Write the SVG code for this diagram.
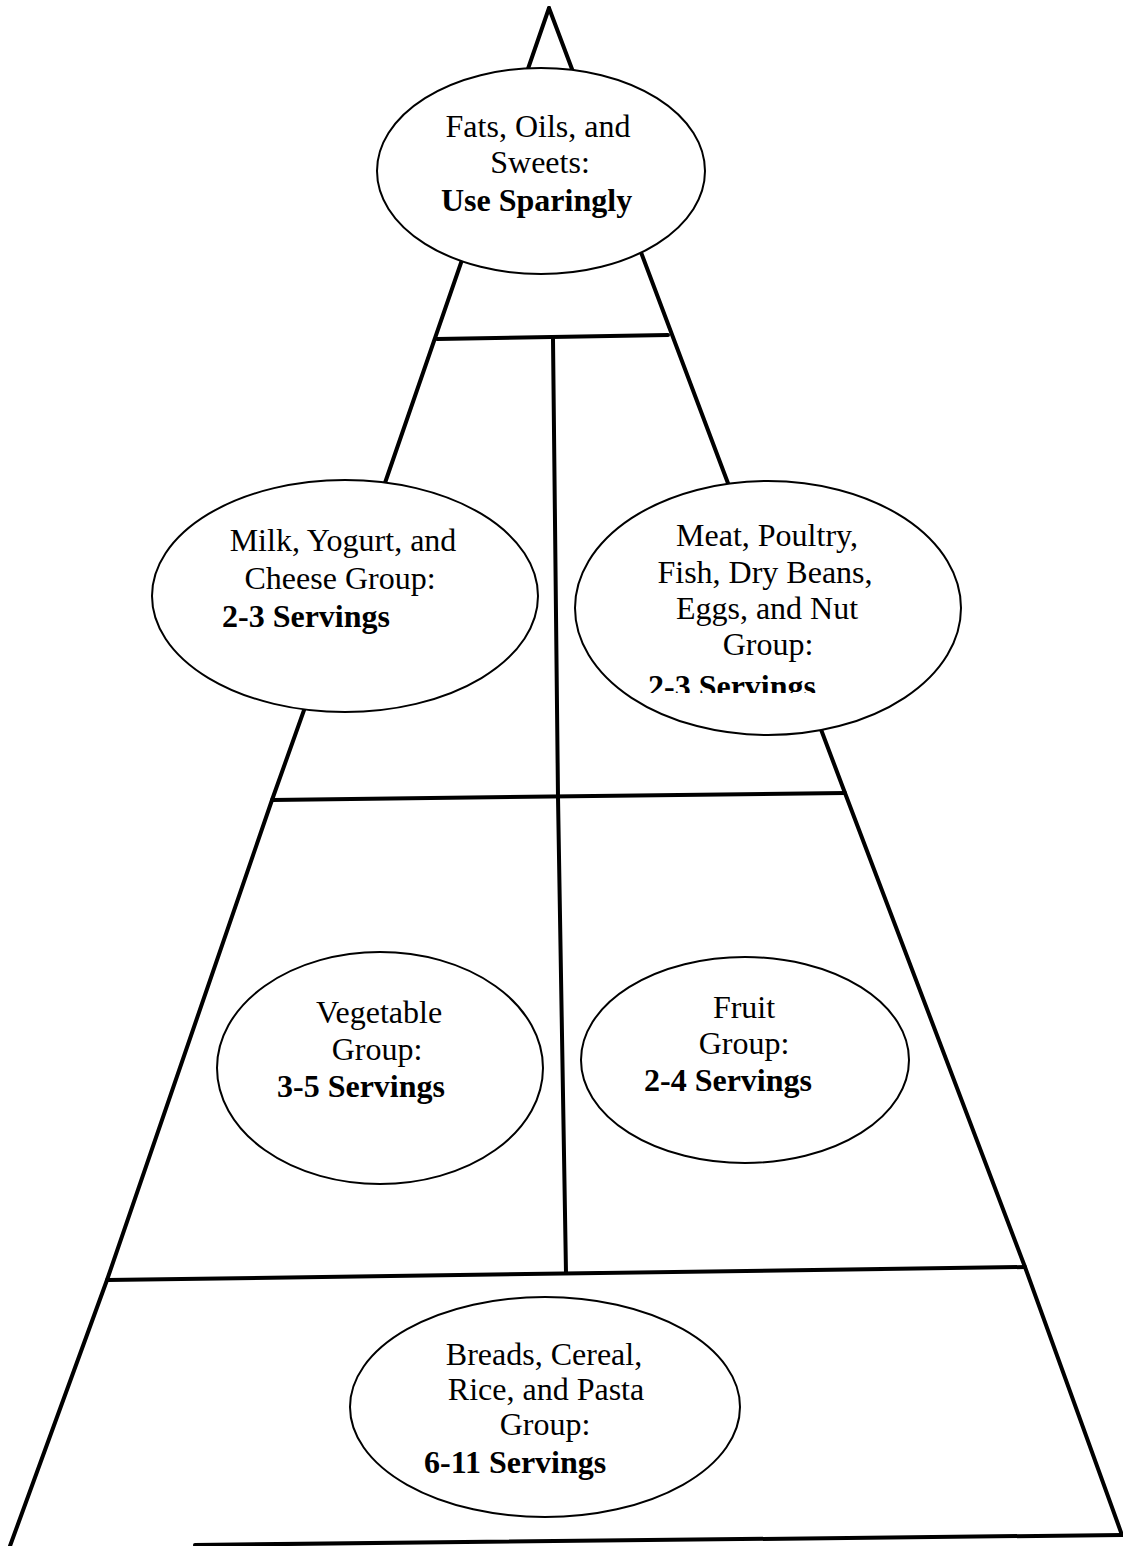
<svg xmlns="http://www.w3.org/2000/svg" width="1123" height="1546" viewBox="0 0 1123 1546">
<style>
.edge{fill:none;stroke:#000;stroke-width:4;stroke-linejoin:round;stroke-linecap:round}
.node ellipse{fill:#fff;stroke:#000;stroke-width:2}
text{font-family:"Liberation Serif","Times New Roman",serif;font-size:32px;fill:#000}
.c{text-anchor:middle}
.b{font-weight:bold}
</style>
<defs>
<clipPath id="meatclip"><rect x="560" y="470" width="420" height="223"/></clipPath>
</defs>
<rect width="1123" height="1546" fill="#fff"/>
<g id="connectors">
<polyline class="edge" points="549,8 386,480 272,800 107,1280 10,1546"/>
<polyline class="edge" points="549,8 723,470 845,793 1025,1267 1122,1535"/>
<line class="edge" x1="437" y1="339" x2="668" y2="335"/>
<line class="edge" x1="272" y1="800" x2="845" y2="793"/>
<line class="edge" x1="107" y1="1280" x2="1025" y2="1267"/>
<line class="edge" x1="195" y1="1545" x2="1122" y2="1535"/>
<line class="edge" x1="553" y1="339" x2="558" y2="797"/>
<line class="edge" x1="558" y1="797" x2="566" y2="1273"/>
</g>
<g id="fats" class="node">
<ellipse cx="541" cy="171" rx="164" ry="103"/>
<text class="c" x="538" y="137">Fats, Oils, and</text>
<text class="c" x="540" y="173">Sweets:</text>
<text class="b" x="441" y="211">Use Sparingly</text>
</g>
<g id="milk" class="node">
<ellipse cx="345" cy="596" rx="193" ry="116"/>
<text class="c" x="343" y="551">Milk, Yogurt, and</text>
<text class="c" x="340" y="589">Cheese Group:</text>
<text class="b" x="222" y="627">2-3 Servings</text>
</g>
<g id="meat" class="node">
<ellipse cx="768" cy="608" rx="193" ry="127"/>
<text class="c" x="767" y="546">Meat, Poultry,</text>
<text class="c" x="765" y="583">Fish, Dry Beans,</text>
<text class="c" x="767" y="619">Eggs, and Nut</text>
<text class="c" x="768" y="655">Group:</text>
<text class="b" x="648" y="697" clip-path="url(#meatclip)">2-3 Servings</text>
</g>
<g id="vegetable" class="node">
<ellipse cx="380" cy="1068" rx="163" ry="116"/>
<text class="c" x="379" y="1023">Vegetable</text>
<text class="c" x="377" y="1060">Group:</text>
<text class="b" x="277" y="1097">3-5 Servings</text>
</g>
<g id="fruit" class="node">
<ellipse cx="745" cy="1060" rx="164" ry="103"/>
<text class="c" x="744" y="1018">Fruit</text>
<text class="c" x="744" y="1054">Group:</text>
<text class="b" x="644" y="1091">2-4 Servings</text>
</g>
<g id="breads" class="node">
<ellipse cx="545" cy="1407" rx="195" ry="110"/>
<text class="c" x="544" y="1365">Breads, Cereal,</text>
<text class="c" x="546" y="1400">Rice, and Pasta</text>
<text class="c" x="545" y="1435">Group:</text>
<text class="b" x="424" y="1473">6-11 Servings</text>
</g>
</svg>
